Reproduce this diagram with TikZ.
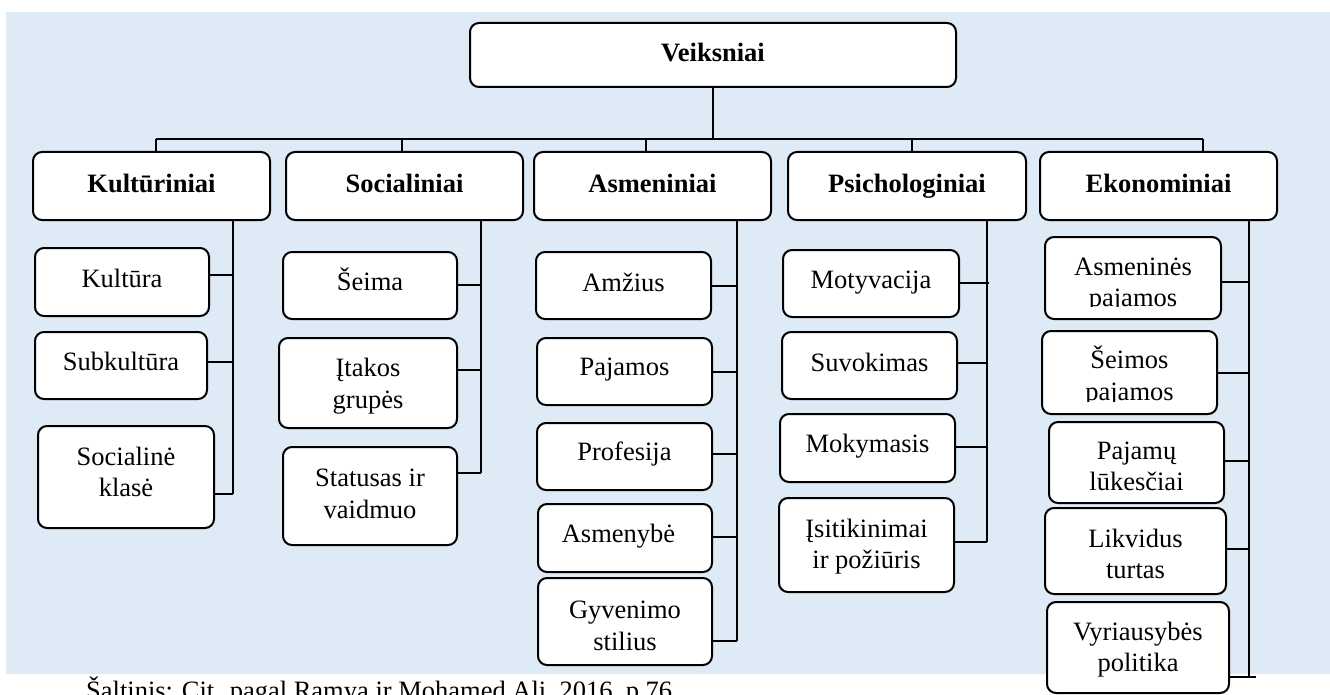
\documentclass[tikz,border=0pt]{standalone}
\usepackage{fontspec}
\setmainfont{Liberation Serif}
\definecolor{panel}{HTML}{DEEAF6}
\tikzset{
  cell/.style={draw=black, line width=2pt, rounded corners=9pt, fill=white, inner sep=0pt},
  txt/.style={align=center, inner sep=0pt, font=\fontsize{26.5}{31.5}\selectfont},
  wire/.style={draw=black, line width=1.6pt},
}
% \bnode[text x offset]{name}{x1}{y1}{x2}{y2}{mid baseline}{text}
\newcommand{\bnode}[8][0]{%
  \node[cell, minimum width={#5-#3}, minimum height={#6-#4}] (#2) at ({(#3+#5)/2},{(#4+#6)/2}) {};
  \node[txt] (#2-t) at ({(#3+#5)/2+#1},{#7-6.3}) {#8};
}
% same box, text cut off below a given line
\newcommand{\bnodeclip}[8]{%
  \node[cell, minimum width={#4-#2}, minimum height={#5-#3}] (#1) at ({(#2+#4)/2},{(#3+#5)/2}) {};
  \begin{scope}
    \clip (#2,#3) rectangle (#4,#7);
    \node[txt] (#1-t) at ({(#2+#4)/2},{#6-6.3}) {#8};
  \end{scope}
}
% horizontal tap from a box to its trunk
\newcommand{\tap}[3]{%
  \coordinate (#1-j) at (#2,#3);
  \draw[wire] (#1.east |- #1-j) -- (#1-j);
}
\begin{document}
\begin{tikzpicture}[x=1pt, y=-1pt]
\useasboundingbox (0,0) rectangle (1330,695);
\fill[white] (0,0) rectangle (1330,695);
\fill[panel] (6,12) rectangle (1330,674);

% root and first level
\bnode{veik}{470}{23}{956}{87}{62}{\strut\textbf{Veiksniai}}
\bnode{kul}{33}{152}{270}{220}{193}{\strut\textbf{Kultūriniai}}
\bnode{soc}{286}{152}{523}{220}{193}{\strut\textbf{Socialiniai}}
\bnode{asm}{534}{152}{771}{220}{193}{\strut\textbf{Asmeniniai}}
\bnode{psi}{788}{152}{1026}{220}{193}{\strut\textbf{Psichologiniai}}
\bnode{eko}{1040}{152}{1277}{220}{193}{\strut\textbf{Ekonominiai}}

% cultural
\bnode{kultura}{35}{248}{209}{316}{287}{\strut Kultūra}
\bnode{subkult}{35}{332}{207}{399}{370}{\strut Subkultūra}
\bnode{soccls}{38}{426}{214}{528}{481}{\strut Socialinė\\\strut klasė}
% social
\bnode{seima}{283}{252}{457}{319}{290}{\strut Šeima}
\bnode{itakos}{279}{338}{457}{428}{392.5}{\strut Įtakos\\\strut grupės}
\bnode{status}{283}{447}{457}{545}{502.5}{\strut Statusas ir\\\strut vaidmuo}
% personal
\bnode{amzius}{536}{252}{711}{319}{291}{\strut Amžius}
\bnode{pajamos}{537}{338}{712}{405}{375}{\strut Pajamos}
\bnode{profes}{537}{423}{712}{490}{460}{\strut Profesija}
\bnode[-6.5]{asmenyb}{538}{504}{712}{572}{542}{\strut Asmenybė}
\bnode{gyven}{538}{578}{712}{665}{634.5}{\strut Gyvenimo\\\strut stilius}
% psychological
\bnode{motyv}{783}{250}{959}{317}{288}{\strut Motyvacija}
\bnode{suvok}{782}{332}{957}{399}{371}{\strut Suvokimas}
\bnode{mokym}{780}{414}{955}{482}{452}{\strut Mokymasis}
\bnode{isitik}{779}{498}{954}{592}{553}{\strut Įsitikinimai\\\strut ir požiūris}
% economic
\bnodeclip{asmpaj}{1045}{237}{1221}{319}{291}{306}{\strut Asmeninės\\\strut pajamos}
\bnodeclip{seimpaj}{1042}{331}{1217}{414}{384}{401}{\strut Šeimos\\\strut pajamos}
\bnodeclip{pajluk}{1049}{422}{1224}{503}{475}{490}{\strut Pajamų\\\strut lūkesčiai}
\bnode{likv}{1045}{508}{1226}{594}{563}{\strut Likvidus\\\strut turtas}
\bnode{vyr}{1047}{602}{1229}{693}{656}{\strut Vyriausybės\\\strut politika}

% root to bus
\coordinate (hub) at (713,139);
\draw[wire] (veik.south) -- (hub);
\foreach \x/\n in {156/kul,402/soc,646/asm,912/psi,1203/eko}{
  \coordinate (drop-\n) at (\x,139);
  \draw[wire] (drop-\n) -- (drop-\n |- \n.north);
}
\draw[wire] (drop-kul) -- (drop-eko);

% trunks
\coordinate (kul-end) at (233,494);
\coordinate (soc-end) at (481,473);
\coordinate (asm-end) at (737,641);
\coordinate (psi-end) at (987,542);
\coordinate (eko-end) at (1249,677);
\foreach \n in {kul,soc,asm,psi,eko}{
  \draw[wire] (\n-end |- \n.south) -- (\n-end);
}

% taps
\tap{kultura}{233}{275}
\tap{subkult}{233}{362}
\tap{soccls}{233}{494}
\tap{seima}{481}{285}
\tap{itakos}{481}{370}
\tap{status}{481}{473}
\tap{amzius}{737}{286}
\tap{pajamos}{737}{372}
\tap{profes}{737}{454}
\tap{asmenyb}{737}{537}
\tap{gyven}{737}{641}
\tap{motyv}{989}{283}
\tap{suvok}{987}{363}
\tap{mokym}{987}{447}
\tap{isitik}{987}{542}
\tap{asmpaj}{1249}{282}
\tap{seimpaj}{1249}{373}
\tap{pajluk}{1249}{461}
\tap{likv}{1249}{549}
\tap{vyr}{1256}{677}

% source line
\node[anchor=base west, inner sep=0pt, font=\fontsize{26.5}{31.5}\selectfont] (src) at (86,699.5)
  {Šaltinis: Cit. pagal Ramya ir Mohamed Ali, 2016, p.76.};
\end{tikzpicture}
\end{document}
